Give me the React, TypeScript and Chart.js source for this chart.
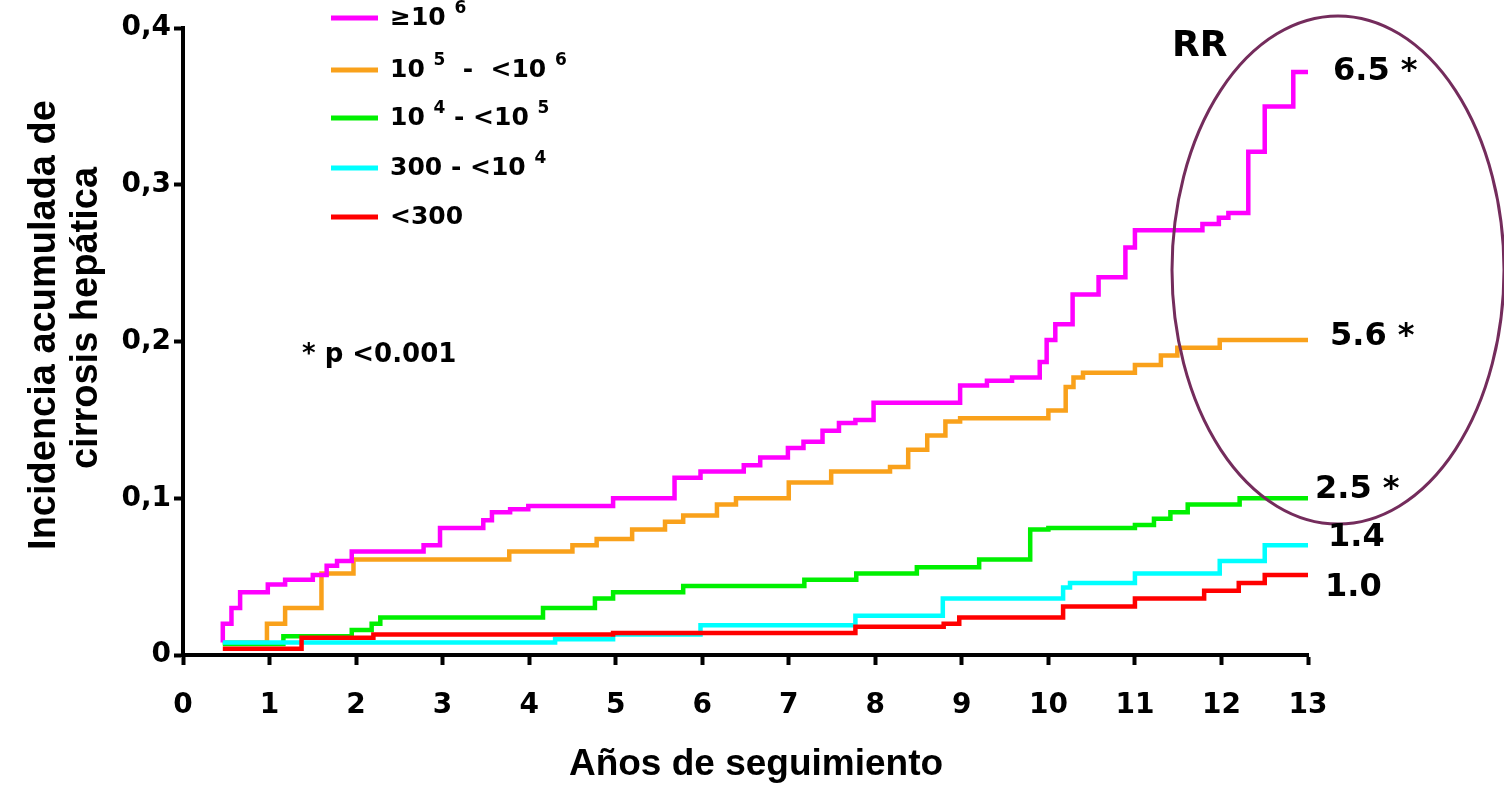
import React, { useEffect, useRef } from "react";
import { Chart, registerables } from "chart.js";

Chart.register(...registerables);

// ---- data (years of follow-up, cumulative incidence) ----
const xTickValues = [0, 1, 2, 3, 4, 5, 6, 7, 8, 9, 10, 11, 12, 13];
const yTickValues = [0, 0.1, 0.2, 0.3, 0.4];

const magentaT = [0.46, 0.46, 0.56, 0.66, 0.98, 1.18, 1.5, 1.66, 1.78, 1.95, 2.78, 2.97, 3.47, 3.57, 3.78, 3.99, 4.97, 5.68, 5.98, 6.48, 6.67, 6.99, 7.17, 7.39, 7.58, 7.77, 7.98, 8.98, 9.29, 9.58, 9.9, 9.98, 10.08, 10.28, 10.58, 10.89, 11.0, 11.78, 11.97, 12.08, 12.31, 12.5, 12.83, 13.0];
const magentaV = [0.008, 0.02, 0.03, 0.04, 0.045, 0.048, 0.051, 0.057, 0.06, 0.066, 0.07, 0.081, 0.086, 0.091, 0.093, 0.095, 0.1, 0.113, 0.117, 0.121, 0.126, 0.132, 0.136, 0.143, 0.148, 0.15, 0.161, 0.172, 0.175, 0.177, 0.187, 0.201, 0.211, 0.23, 0.241, 0.26, 0.271, 0.275, 0.279, 0.282, 0.321, 0.35, 0.372, 0.372];

const orangeT = [0.46, 0.97, 1.18, 1.6, 1.97, 3.77, 4.5, 4.78, 5.19, 5.57, 5.78, 6.17, 6.39, 7.0, 7.49, 8.17, 8.38, 8.6, 8.81, 8.98, 10.0, 10.2, 10.29, 10.4, 11.0, 11.3, 11.49, 11.98, 13.0];
const orangeV = [0.008, 0.02, 0.03, 0.052, 0.061, 0.066, 0.07, 0.074, 0.08, 0.085, 0.089, 0.096, 0.1, 0.11, 0.117, 0.12, 0.131, 0.14, 0.149, 0.151, 0.156, 0.171, 0.177, 0.18, 0.185, 0.191, 0.196, 0.201, 0.201];

const greenT = [0.46, 1.16, 1.95, 2.18, 2.28, 4.16, 4.76, 4.97, 5.78, 7.18, 7.78, 8.48, 9.2, 9.79, 10.0, 11.0, 11.22, 11.41, 11.61, 12.21, 13.0];
const greenV = [0.007, 0.012, 0.016, 0.02, 0.024, 0.03, 0.036, 0.04, 0.044, 0.048, 0.052, 0.056, 0.061, 0.08, 0.081, 0.083, 0.087, 0.091, 0.096, 0.1, 0.1];

const cyanT = [0.46, 4.3, 4.97, 5.98, 7.77, 8.78, 10.17, 10.25, 11.0, 11.98, 12.5, 13.0];
const cyanV = [0.008, 0.01, 0.013, 0.019, 0.025, 0.036, 0.043, 0.046, 0.052, 0.06, 0.07, 0.07];

const redT = [0.46, 1.37, 2.2, 4.97, 7.77, 8.79, 8.97, 10.17, 11.0, 11.8, 12.2, 12.5, 13.0];
const redV = [0.004, 0.011, 0.013, 0.014, 0.018, 0.02, 0.024, 0.031, 0.036, 0.041, 0.046, 0.051, 0.051];

const seriesNames = ["≥10^6", "10^5 - <10^6", "10^4 - <10^5", "300 - <10^4", "<300"];
const rrLabels = ["6.5 *", "5.6 *", "2.5 *", "1.4", "1.0"];

const COLORS = {
  magenta: "#ff00ff",
  orange: "#f9a11b",
  green: "#00f000",
  cyan: "#00ffff",
  red: "#ff0000",
};

const pts = (t: number[], v: number[]) => t.map((x, i) => ({ x, y: v[i] }));

const NUM_FONT = '"DejaVu Sans", Verdana, sans-serif';
const TITLE_FONT = '"Liberation Sans", Arial, sans-serif';

// legend segments: [text, isSuperscript]
const legendSegments: [string, boolean][][] = [
  [["≥10", false], [" ", false], ["6", true]],
  [["10", false], [" ", false], ["5", true], ["  -  <10", false], [" ", false], ["6", true]],
  [["10", false], [" ", false], ["4", true], [" - <10", false], [" ", false], ["5", true]],
  [["300 - <10", false], [" ", false], ["4", true]],
  [["<300", false]],
];
const legendColors = [COLORS.magenta, COLORS.orange, COLORS.green, COLORS.cyan, COLORS.red];

const annotPlugin = {
  id: "annot",
  afterDraw(chart: any) {
    const ctx: CanvasRenderingContext2D = chart.ctx;
    ctx.save();

    // ellipse around RR region
    ctx.beginPath();
    ctx.ellipse(1338, 270, 166, 254, 0, 0, Math.PI * 2);
    ctx.strokeStyle = "#742c5c";
    ctx.lineWidth = 3;
    ctx.stroke();

    ctx.fillStyle = "#000";
    ctx.textBaseline = "middle";
    ctx.textAlign = "left";

    // legend
    const legendY = [18, 70, 118, 168, 217];
    legendSegments.forEach((segs, i) => {
      const y = legendY[i];
      ctx.beginPath();
      ctx.moveTo(331, y);
      ctx.lineTo(378, y);
      ctx.strokeStyle = legendColors[i];
      ctx.lineWidth = 5;
      ctx.stroke();
      let x = 390;
      segs.forEach(([txt, sup]) => {
        ctx.font = sup ? `bold 17px ${NUM_FONT}` : `bold 25px ${NUM_FONT}`;
        ctx.fillText(txt, x, sup ? y - 9 : y);
        x += ctx.measureText(txt).width;
      });
    });

    // p-value note
    ctx.font = `bold 26px ${NUM_FONT}`;
    ctx.fillText("* p <0.001", 302, 355);

    // RR header and values
    ctx.font = `bold 36px ${NUM_FONT}`;
    ctx.fillText("RR", 1172, 47);
    const rrX = [1333, 1330, 1315, 1328, 1325];
    const rrY = [72, 337, 490, 538, 588];
    ctx.font = `bold 32px ${NUM_FONT}`;
    rrLabels.forEach((l, i) => ctx.fillText(l, rrX[i], rrY[i]));

    // axis titles
    ctx.font = `bold 37px ${TITLE_FONT}`;
    ctx.textAlign = "center";
    ctx.fillText("Años de seguimiento", 756, 765);

    ctx.font = `bold 38px ${TITLE_FONT}`;
    ctx.save();
    ctx.translate(45, 325);
    ctx.rotate(-Math.PI / 2);
    ctx.fillText("Incidencia acumulada de", 0, 0);
    ctx.restore();
    ctx.save();
    ctx.translate(87, 318);
    ctx.rotate(-Math.PI / 2);
    ctx.fillText("cirrosis hepática", 0, 0);
    ctx.restore();

    ctx.restore();
  },
};

export default function App() {
  const ref = useRef<HTMLCanvasElement | null>(null);

  useEffect(() => {
    document.body.style.margin = "0";
    const canvas = ref.current;
    if (!canvas) return;
    const ds = (label: string, t: number[], v: number[], color: string, order: number) => ({
      label,
      data: pts(t, v),
      borderColor: color,
      backgroundColor: color,
      borderWidth: 4.5,
      stepped: "before" as const,
      pointRadius: 0,
      fill: false,
      order,
      borderCapStyle: "butt" as const,
      borderJoinStyle: "miter" as const,
    });
    const chart = new Chart(canvas, {
      type: "line",
      data: {
        datasets: [
          ds(seriesNames[0], magentaT, magentaV, COLORS.magenta, 3),
          ds(seriesNames[1], orangeT, orangeV, COLORS.orange, 4),
          ds(seriesNames[2], greenT, greenV, COLORS.green, 2),
          ds(seriesNames[3], cyanT, cyanV, COLORS.cyan, 1),
          ds(seriesNames[4], redT, redV, COLORS.red, 0),
        ],
      },
      options: {
        responsive: false,
        animation: false,
        devicePixelRatio: 1,
        layout: { padding: { top: 28, right: 196, left: 0, bottom: 0 } },
        plugins: { legend: { display: false }, tooltip: { enabled: false } },
        scales: {
          x: {
            type: "linear",
            min: 0,
            max: 13,
            afterBuildTicks: (s: any) => {
              s.ticks = xTickValues.map((v) => ({ value: v }));
            },
            ticks: {
              color: "#000",
              font: { family: NUM_FONT, size: 28, weight: "bold" },
              padding: 24,
              maxRotation: 0,
              autoSkip: false,
              callback: (v: any) => String(v),
            },
            grid: { drawOnChartArea: false, drawTicks: true, tickLength: 10, tickWidth: 4, tickColor: "#000" },
            border: { display: true, color: "#000", width: 4 },
            afterFit: (s: any) => {
              s.height = 130;
              s.paddingLeft = 0;
              s.paddingRight = 0;
            },
          },
          y: {
            type: "linear",
            min: 0,
            max: 0.4,
            afterBuildTicks: (s: any) => {
              s.ticks = yTickValues.map((v) => ({ value: v }));
            },
            ticks: {
              color: "#000",
              font: { family: NUM_FONT, size: 28, weight: "bold" },
              padding: 3,
              callback: (v: any) => (Number(v) === 0 ? "0" : Number(v).toFixed(1).replace(".", ",")),
            },
            grid: { drawOnChartArea: false, drawTicks: true, tickLength: 9, tickWidth: 4, tickColor: "#000" },
            border: { display: true, color: "#000", width: 4 },
            afterFit: (s: any) => {
              s.width = 183;
              s.paddingTop = 0;
              s.paddingBottom = 0;
            },
          },
        },
      },
      plugins: [annotPlugin],
    });
    return () => chart.destroy();
  }, []);

  return (
    <div style={{ width: 1504, height: 785, background: "#fff" }}>
      <canvas ref={ref} width={1504} height={785} style={{ display: "block" }} />
    </div>
  );
}
